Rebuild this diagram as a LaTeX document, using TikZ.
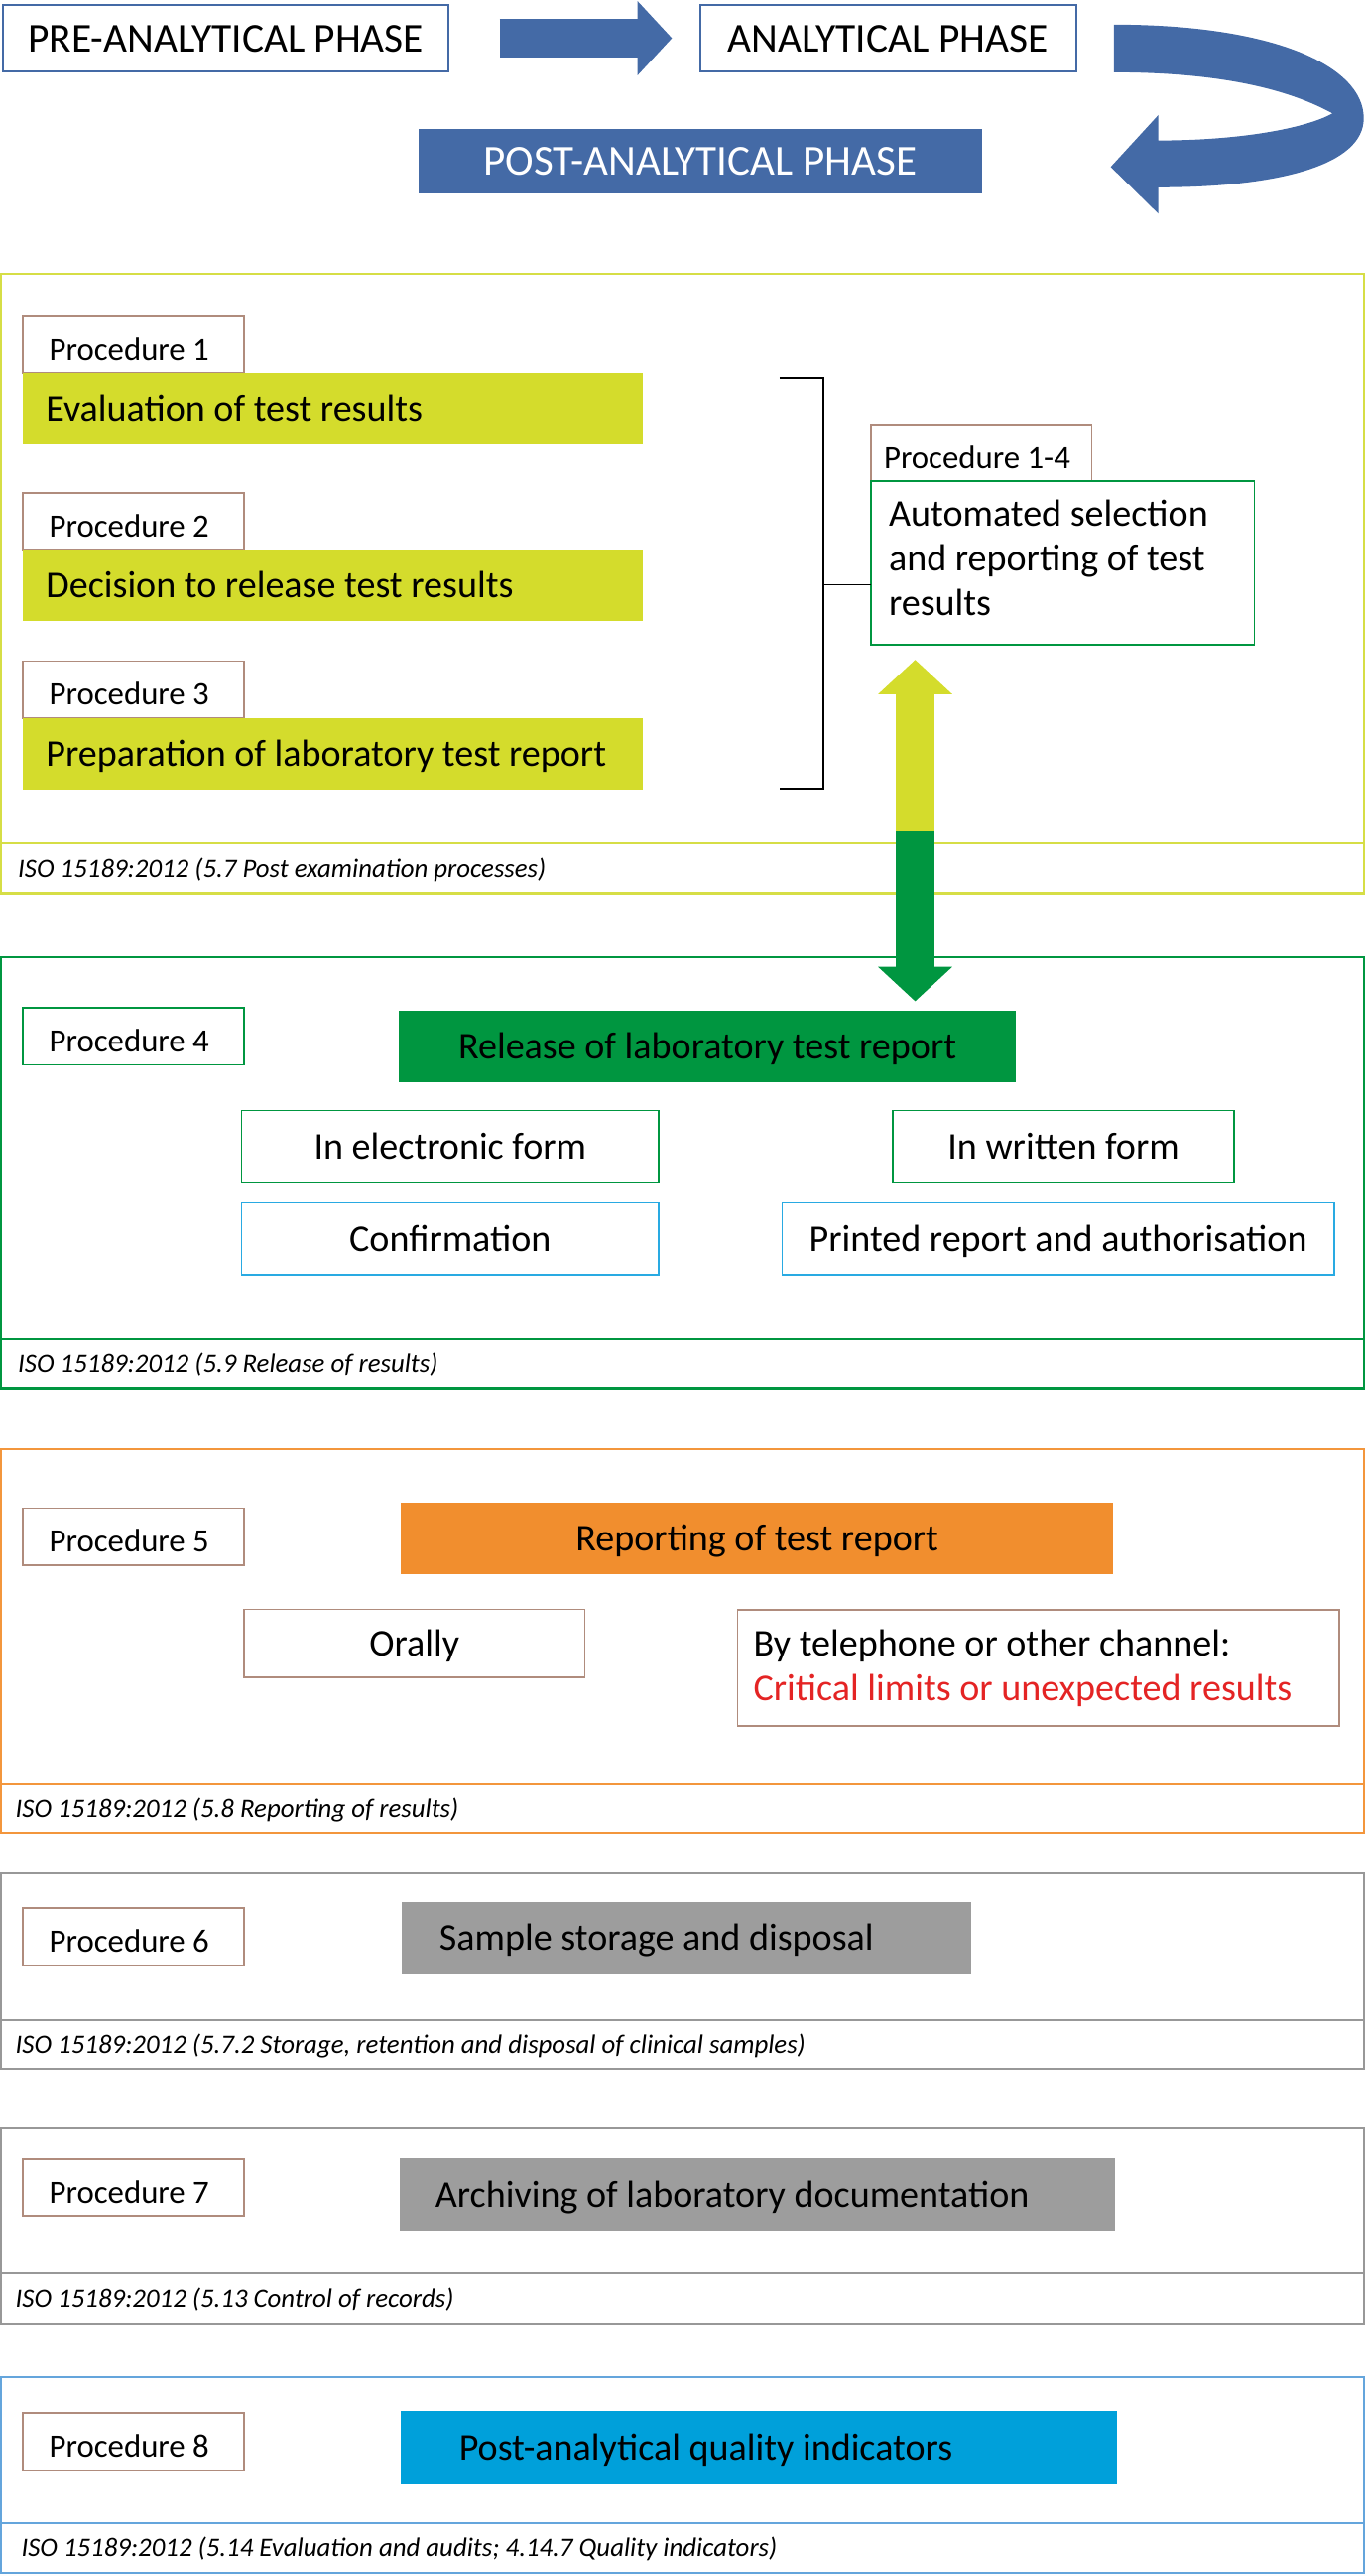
\documentclass[tikz,border=0pt]{standalone}
\usepackage{fontspec}
\setmainfont{Carlito}
\usetikzlibrary{positioning, arrows.meta}

\definecolor{phaseblue}{RGB}{68,106,166}
\definecolor{procline}{RGB}{176,140,125}
\definecolor{limefill}{RGB}{212,220,44}
\definecolor{limeline}{RGB}{214,222,70}
\definecolor{labgreen}{RGB}{0,150,64}
\definecolor{skyline}{RGB}{41,170,226}
\definecolor{orangefill}{RGB}{241,142,46}
\definecolor{orangeline}{RGB}{243,150,60}
\definecolor{greyfill}{RGB}{157,157,157}
\definecolor{greyline}{RGB}{152,152,152}
\definecolor{qifill}{RGB}{0,160,218}
\definecolor{qiline}{RGB}{100,165,220}
\definecolor{critred}{RGB}{228,36,36}

\begin{document}
\begin{tikzpicture}[x=1pt, y=-1pt,
  every node/.style={inner sep=0pt, outer sep=0pt, anchor=north west},
  phase/.style={draw=phaseblue, line width=1.2pt, minimum height=40.5pt,
    font=\fontsize{25}{30}\selectfont, text height=16.5pt, text depth=0pt},
  proc/.style={draw=procline, line width=1pt, minimum width=134.5pt,
    minimum height=34.6pt, text width=102.5pt, inner xsep=16pt, align=flush left,
    font=\fontsize{19.8}{23}\selectfont, text height=18.8pt, text depth=0pt},
  task/.style={minimum height=43.5pt, font=\fontsize{23}{28}\selectfont,
    text height=15.2pt, text depth=0pt},
  limetask/.style={task, fill=limefill, text width=349pt, inner xsep=14pt, align=flush left},
  framed/.style={task, draw=#1, line width=1pt, minimum height=44pt},
  iso/.style={anchor=west, font=\fontsize{16.2}{18}\selectfont\itshape,
    text height=10.7pt, text depth=0pt},
  fat/.style={line width=24pt, -{Triangle[width=44pt, length=21pt]}}]
  \useasboundingbox (0,0) rectangle (831,1568);

  % phases
  \node[phase, minimum width=271pt] (pre) at (2,3) {PRE-ANALYTICAL PHASE};
  \node[phase, minimum width=229pt] (ana) at (426,3) {ANALYTICAL PHASE};
  \node[phase, fill=phaseblue, draw=none, text=white, minimum width=343.5pt,
    minimum height=39.5pt, font=\fontsize{26}{30}\selectfont] (post) at (254.5,78.5)
    {POST-ANALYTICAL PHASE};
  \draw[fat, phaseblue, shorten <=31pt, shorten >=17pt] (pre) -- (ana);
  \fill[phaseblue] (678,15) .. controls (775,15) and (830,40) .. (830,72)
    .. controls (830,100) and (780,114) .. (705,114) -- (705,130) -- (676,101.6)
    -- (705,70) -- (705,85.5) .. controls (755,85.5) and (795,78) .. (811,69)
    .. controls (780,52) and (735,44) .. (678,44) -- cycle;

  % section frames
  \foreach \ytop/\yfoot/\ybot/\col in {166.6/513.4/543.7/limeline,
      582.8/815/845/labgreen, 882/1086/1116/orangeline,
      1140/1229.4/1259.6/greyline, 1295/1384/1414.4/greyline,
      1446.6/1536/1566/qiline}
    \draw[\col, line width=1.3pt] (0.7,\ytop) rectangle (830.3,\ybot)
      (0.7,\yfoot) -- (830.3,\yfoot);

  % procedures 1-3
  \node[proc] (p1) at (14,192.5) {Procedure 1};
  \node[limetask, below right=0pt and 0pt of p1.south west] (eval) {Evaluation of test results};
  \node[proc] (p2) at (14,300) {Procedure 2};
  \node[limetask, below right=0pt and 0pt of p2.south west] (dec) {Decision to release test results};
  \node[proc] (p3) at (14,402.5) {Procedure 3};
  \node[limetask, below right=0pt and 0pt of p3.south west] (prep) {Preparation of laboratory test report};

  \node[proc, text width=118.5pt, inner xsep=8pt] (p14) at (530,258.3) {Procedure 1-4};
  \node[draw=labgreen, line width=1pt, minimum width=233.5pt, minimum height=99.7pt,
    text width=211.5pt, inner xsep=11pt, align=flush left, font=\fontsize{23}{27.3}\selectfont,
    text height=16.3pt, text depth=61.5pt, below right=0pt and 0pt of p14.south west]
    (auto) {Automated selection\\and reporting of test\\results};

  \coordinate (bt) at (474.5,230);
  \coordinate (bb) at (474.5,480);
  \coordinate (bm) at (501,356);
  \draw[line width=1pt] (bt) -- (501,230) -- (501,480) -- (bb);
  \draw[line width=1pt] (bm) -- (bm -| auto.west);
  \node[iso] (iso1) at (11,528.5) {ISO 15189:2012 (5.7 Post examination processes)};

  % procedure 4
  \node[proc, draw=labgreen] (p4) at (14,613.6) {Procedure 4};
  \node[task, fill=labgreen, minimum width=375pt, minimum height=43.8pt] (rel) at (243,615)
    {Release of laboratory test report};
  \node[framed=labgreen, minimum width=254pt] (elec) at (147,676) {In electronic form};
  \node[framed=labgreen, minimum width=207.5pt] (writ) at (543.5,676) {In written form};
  \node[framed=skyline, minimum width=254pt] (conf) at (147,732) {Confirmation};
  \node[framed=skyline, minimum width=336pt] (print) at (476,732) {Printed report and authorisation};
  \node[iso] (iso2) at (11,830) {ISO 15189:2012 (5.9 Release of results)};

  \coordinate (mid) at (557,506);
  \draw[fat, limefill, shorten >=9pt] (mid) -- (mid |- auto.south);
  \draw[fat, labgreen, shorten >=5.5pt] (mid) -- (mid |- rel.north);

  % procedure 5
  \node[proc] (p5) at (14,918) {Procedure 5};
  \node[task, fill=orangefill, minimum width=433.5pt] (rep) at (244,914.5) {Reporting of test report};
  \node[framed=procline, minimum width=207.5pt, minimum height=41.3pt] (oral) at (148.5,979.7) {Orally};
  \node[draw=procline, line width=1pt, minimum width=366pt, minimum height=70.7pt,
    text width=346.8pt, inner xsep=9.6pt, align=flush left, font=\fontsize{23}{26.8}\selectfont]
    (tel) at (449,980) {By telephone or other channel:\\\textcolor{critred}{Critical limits or unexpected results}};
  \node[iso] (iso3) at (9.5,1101) {ISO 15189:2012 (5.8 Reporting of results)};

  % procedures 6-8
  \node[proc] (p6) at (14,1161.8) {Procedure 6};
  \node[task, fill=greyfill, text width=300.6pt, inner xsep=23pt, align=flush left] (store)
    at (244.4,1158) {Sample storage and disposal};
  \node[iso] (iso4) at (9.5,1244.5) {ISO 15189:2012 (5.7.2 Storage, retention and disposal of clinical samples)};

  \node[proc] (p7) at (14,1314.4) {Procedure 7};
  \node[task, fill=greyfill, minimum height=44pt, text width=392.1pt, inner xsep=21.6pt,
    align=flush left] (arch) at (243.4,1314) {Archiving of laboratory documentation};
  \node[iso] (iso5) at (9.5,1399.2) {ISO 15189:2012 (5.13 Control of records)};

  \node[proc] (p8) at (14,1469) {Procedure 8};
  \node[task, fill=qifill, minimum height=44pt, text width=365.2pt, inner xsep=35.4pt,
    align=flush left] (qi) at (244,1468) {Post-analytical quality indicators};
  \node[iso] (iso6) at (13,1551) {ISO 15189:2012 (5.14 Evaluation and audits; 4.14.7 Quality indicators)};
\end{tikzpicture}
\end{document}
